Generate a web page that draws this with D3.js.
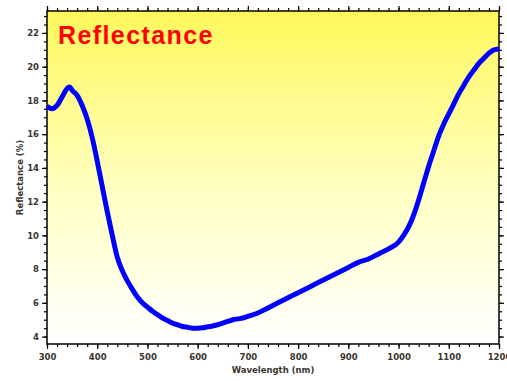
<!DOCTYPE html>
<html>
<head>
<meta charset="utf-8">
<script src="https://cdn.jsdelivr.net/npm/d3@7"></script>
<style>
  body { margin: 0; background: #fff; }
  svg { display: block; }
  .tick text { font-family: "DejaVu Sans", sans-serif; font-size: 8.5px; font-weight: bold; fill: #3a3530; }
</style>
</head>
<body>
<svg id="chart" width="507" height="381"></svg>
<script>
// wavelength (nm) and reflectance (%)
const wavelength = [300, 310, 320, 330, 340, 345, 350, 360, 370, 380, 390, 400, 410, 420, 430, 440, 450, 460, 470, 480, 490,
  500, 510, 520, 530, 540, 550, 560, 570, 580, 590, 600, 610, 620, 630, 640, 650, 660, 670, 680, 690, 700,
  720, 740, 760, 780, 800, 820, 840, 860, 880, 900, 920, 940, 960, 980, 1000, 1010, 1020, 1030, 1040, 1050,
  1060, 1070, 1080, 1090, 1100, 1110, 1120, 1130, 1140, 1150, 1160, 1170, 1180, 1190, 1200];
const reflectance = [17.65, 17.5, 17.7, 18.2, 18.7, 18.8, 18.6, 18.3, 17.7, 16.9, 15.8, 14.4, 12.9, 11.4, 10.0, 8.7, 7.9, 7.3, 6.8, 6.35, 6.0,
  5.75, 5.5, 5.3, 5.1, 4.95, 4.8, 4.7, 4.6, 4.55, 4.5, 4.5, 4.52, 4.58, 4.63, 4.7, 4.8, 4.9, 5.0, 5.05, 5.1, 5.2,
  5.4, 5.7, 6.0, 6.3, 6.6, 6.9, 7.2, 7.5, 7.8, 8.1, 8.4, 8.6, 8.9, 9.2, 9.6, 10.0, 10.5, 11.2, 12.1, 13.1,
  14.1, 15.0, 15.9, 16.6, 17.2, 17.8, 18.4, 18.9, 19.4, 19.8, 20.2, 20.5, 20.8, 21.0, 21.05];

const xTicks = [300, 400, 500, 600, 700, 800, 900, 1000, 1100, 1200];
const yTicks = [4, 6, 8, 10, 12, 14, 16, 18, 20, 22];

const data = wavelength.map((w, i) => ({ w: w, r: reflectance[i] }));

const svg = d3.select("#chart"),
    margin = { top: 11, right: 8, bottom: 37, left: 47 },
    width = +svg.attr("width") - margin.left - margin.right,
    height = +svg.attr("height") - margin.top - margin.bottom;

const x = d3.scaleLinear().domain([300, 1200]).range([0, width]);
const y = d3.scaleLinear().domain([3.56, 23.3]).range([height, 0]);

// yellow to white background
const grad = svg.append("defs").append("linearGradient")
    .attr("id", "bg").attr("x1", 0).attr("y1", 0).attr("x2", 0).attr("y2", 1);
grad.append("stop").attr("offset", "0%").attr("stop-color", "#fff85c");
grad.append("stop").attr("offset", "55%").attr("stop-color", "#ffffc4");
grad.append("stop").attr("offset", "100%").attr("stop-color", "#ffffff");

const g = svg.append("g").attr("transform", `translate(${margin.left},${margin.top})`);

g.append("rect")
    .attr("width", width)
    .attr("height", height)
    .attr("fill", "url(#bg)");

const xMinor = d3.range(300, 1201, 20);
const yMinor = d3.range(4, 23.01, 0.5);
const fmt = d3.format("d");

function styleAxis(sel) {
  sel.select(".domain").remove();
  sel.selectAll(".tick line").attr("stroke", "#000").attr("stroke-width", 1.2);
}

// bottom
g.append("g").attr("transform", `translate(0,${height})`)
    .call(d3.axisBottom(x).tickValues(xMinor).tickSize(3).tickFormat(""))
    .call(styleAxis);
g.append("g").attr("transform", `translate(0,${height})`)
    .call(d3.axisBottom(x).tickValues(xTicks).tickSize(5).tickPadding(5).tickFormat(fmt))
    .call(styleAxis);
// top
g.append("g")
    .call(d3.axisTop(x).tickValues(xMinor).tickSize(3).tickFormat(""))
    .call(styleAxis);
g.append("g")
    .call(d3.axisTop(x).tickValues(xTicks).tickSize(5).tickFormat(""))
    .call(styleAxis);
// left
g.append("g")
    .call(d3.axisLeft(y).tickValues(yMinor).tickSize(3).tickFormat(""))
    .call(styleAxis);
g.append("g")
    .call(d3.axisLeft(y).tickValues(yTicks).tickSize(5).tickPadding(3).tickFormat(fmt))
    .call(styleAxis);
// right
g.append("g").attr("transform", `translate(${width},0)`)
    .call(d3.axisRight(y).tickValues(yMinor).tickSize(3).tickFormat(""))
    .call(styleAxis);
g.append("g").attr("transform", `translate(${width},0)`)
    .call(d3.axisRight(y).tickValues(yTicks).tickSize(5).tickFormat(""))
    .call(styleAxis);

// frame
g.append("rect")
    .attr("width", width)
    .attr("height", height)
    .attr("fill", "none")
    .attr("stroke", "#000")
    .attr("stroke-width", 1.5);

const line = d3.line()
    .x(d => x(d.w))
    .y(d => y(d.r))
    .curve(d3.curveMonotoneX);

g.append("path")
    .datum(data)
    .attr("d", line)
    .attr("fill", "none")
    .attr("stroke", "#0000ff")
    .attr("stroke-width", 5)
    .attr("stroke-linejoin", "round");

// title
g.append("text")
    .attr("x", 11)
    .attr("y", 33)
    .attr("font-family", "Liberation Sans, Arial, sans-serif")
    .attr("font-weight", "bold")
    .attr("font-size", 25)
    .attr("letter-spacing", 1.4)
    .attr("fill", "#ff0000")
    .text("Reflectance");

// axis titles
svg.append("text")
    .attr("x", margin.left + width / 2)
    .attr("y", 373)
    .attr("text-anchor", "middle")
    .attr("font-family", "DejaVu Sans, sans-serif")
    .attr("font-weight", "bold")
    .attr("font-size", 8.5)
    .attr("fill", "#3a3530")
    .text("Wavelength (nm)");

svg.append("text")
    .attr("transform", `translate(23,${margin.top + height / 2}) rotate(-90)`)
    .attr("text-anchor", "middle")
    .attr("font-family", "DejaVu Sans, sans-serif")
    .attr("font-weight", "bold")
    .attr("font-size", 8.5)
    .attr("fill", "#3a3530")
    .text("Reflectance (%)");
</script>
</body>
</html>
